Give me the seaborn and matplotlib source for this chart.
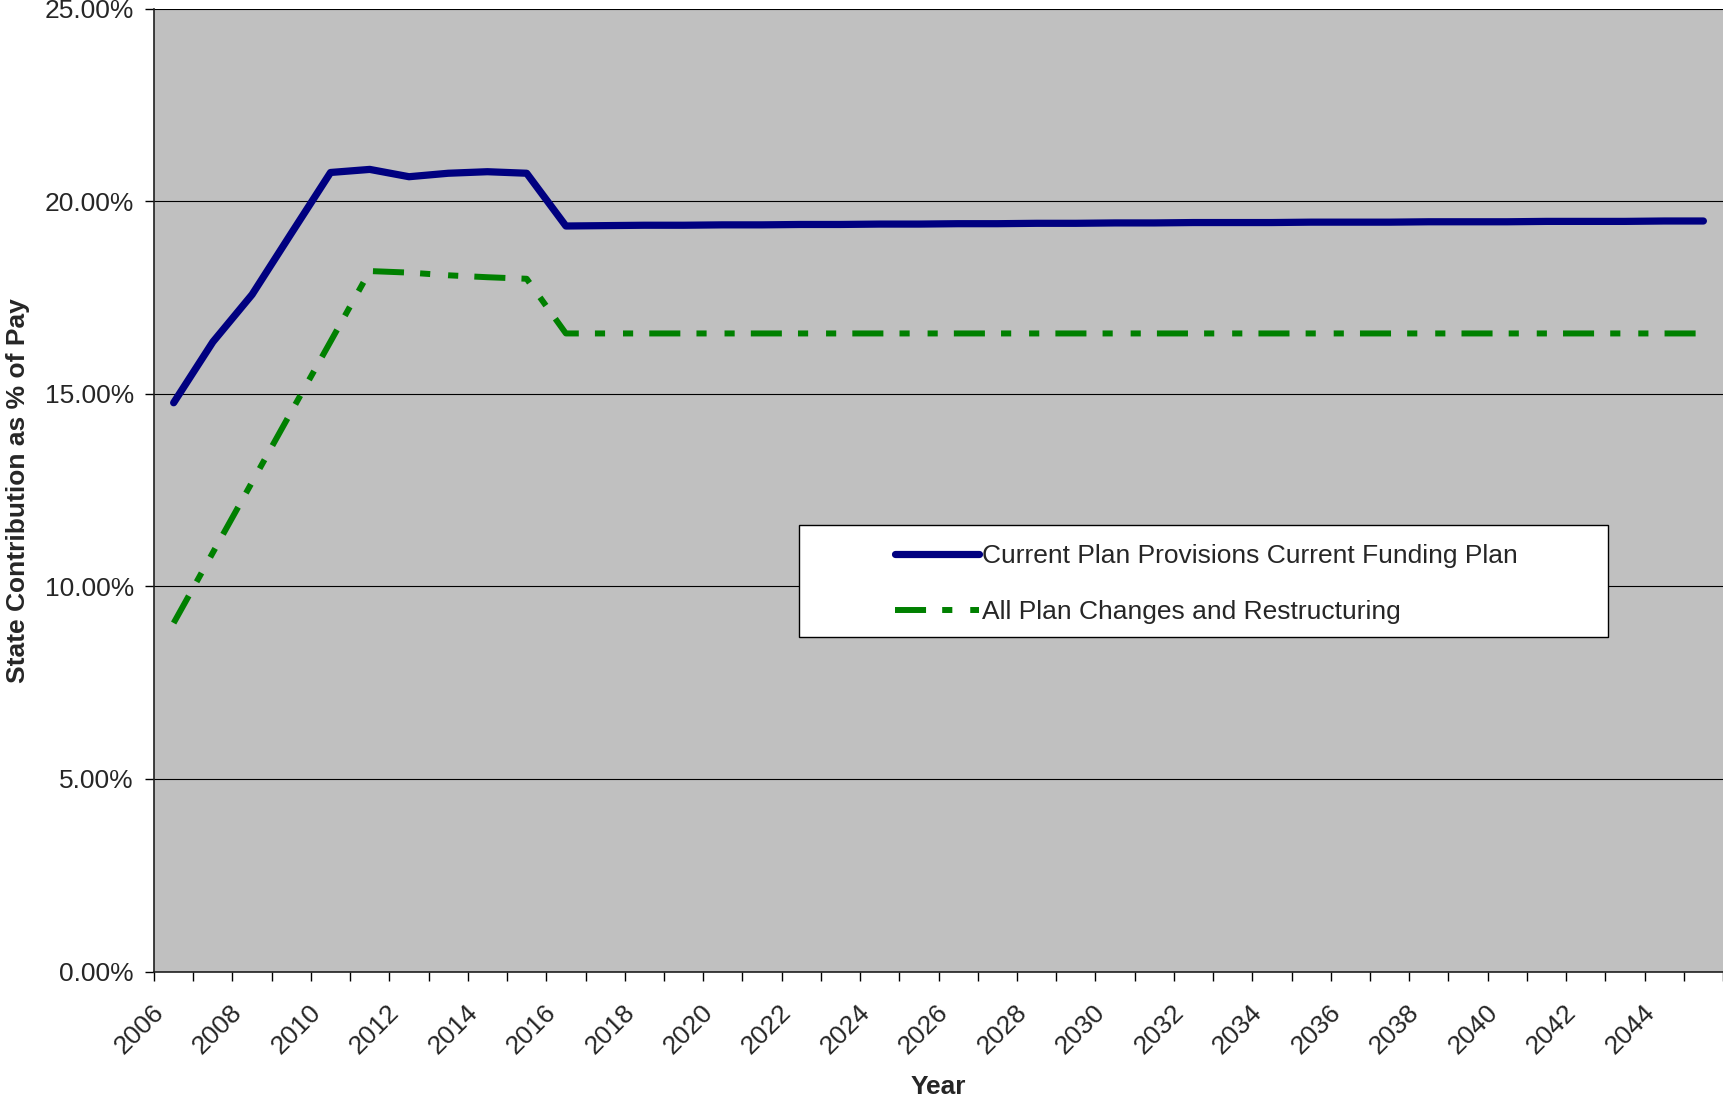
import matplotlib
matplotlib.use("Agg")
import matplotlib.pyplot as plt
import matplotlib.ticker as mticker
import matplotlib.transforms as mtransforms
from matplotlib.patches import Rectangle
import numpy as np
import pandas as pd
import seaborn as sns

# ---- data -------------------------------------------------------------
years = list(range(2006, 2046))

current_plan = [
    14.77, 16.35, 17.58, 19.17, 20.75, 20.83, 20.64, 20.73, 20.77, 20.73,
    19.36, 19.37, 19.38, 19.38, 19.39, 19.39, 19.40, 19.40, 19.41, 19.41,
    19.42, 19.42, 19.43, 19.43, 19.44, 19.44, 19.45, 19.45, 19.45, 19.46,
    19.46, 19.46, 19.47, 19.47, 19.47, 19.48, 19.48, 19.48, 19.49, 19.49,
]

plan_changes = [
    9.05, 10.88, 12.71, 14.54, 16.36, 18.19, 18.15, 18.08, 18.03, 17.99,
    16.57, 16.57, 16.57, 16.57, 16.57, 16.57, 16.57, 16.57, 16.57, 16.57,
    16.57, 16.57, 16.57, 16.57, 16.57, 16.57, 16.57, 16.57, 16.57, 16.57,
    16.57, 16.57, 16.57, 16.57, 16.57, 16.57, 16.57, 16.57, 16.57, 16.57,
]

series_names = [
    "Current Plan Provisions Current Funding Plan",
    "All Plan Changes and Restructuring",
]
y_ticks = [0, 5, 10, 15, 20, 25]
x_label_years = list(range(2006, 2045, 2))

df = pd.DataFrame({"Year": years,
                   series_names[0]: current_plan,
                   series_names[1]: plan_changes})

# ---- style ------------------------------------------------------------
sns.set_style("white")
plt.rcParams["font.family"] = ["Liberation Sans", "DejaVu Sans"]
FS = 19

fig = plt.figure(figsize=(17.23, 11.03), dpi=100)
ax = fig.add_axes([0.0894, 0.1192, 0.9106, 0.8728])
ax.set_facecolor("#C0C0C0")

# gridlines first so the series sit on top
ax.set_axisbelow(True)
ax.yaxis.grid(True, color="black", linewidth=0.8)
ax.xaxis.grid(False)

sns.lineplot(data=df, x="Year", y=series_names[0], ax=ax,
             color="#000080", linewidth=5.2, label=series_names[0],
             solid_capstyle="round", solid_joinstyle="round")
sns.lineplot(data=df, x="Year", y=series_names[1], ax=ax,
             color="#008000", linewidth=4.3, label=series_names[1],
             dash_capstyle="butt")
ax.lines[-1].set_dashes([5.2, 2.7, 1.7, 3.0, 1.7, 2.7])

# ---- axes -------------------------------------------------------------
ax.set_xlim(2005.5, 2045.5)
ax.set_ylim(0, 25)

ax.set_yticks(y_ticks)
ax.yaxis.set_major_formatter(mticker.FuncFormatter(lambda v, p: f"{v:.2f}%"))
ax.tick_params(axis="y", which="major", direction="out", length=6.5,
               width=1, color="black", pad=8, labelsize=FS, left=True)

# year labels centred on each category, tick marks on category boundaries
ax.set_xticks(x_label_years)
ax.set_xticklabels([str(y) for y in x_label_years], rotation=45,
                   ha="right", rotation_mode="anchor")
ax.set_xticks(np.arange(2005.5, 2046.0, 1.0), minor=True)
ax.tick_params(axis="x", which="major", length=0, pad=16, labelsize=FS)
ax.tick_params(axis="x", which="minor", direction="out", length=6.5,
               width=1, color="black", bottom=True)
shift = mtransforms.ScaledTranslation(-0.22, -0.06, fig.dpi_scale_trans)
for lbl in ax.get_xticklabels():
    lbl.set_transform(lbl.get_transform() + shift)

for side in ("top", "right"):
    ax.spines[side].set_visible(False)
for side in ("left", "bottom"):
    ax.spines[side].set_color("#202020")
    ax.spines[side].set_linewidth(1.2)

ax.set_xlabel("Year", fontsize=FS, fontweight="bold")
ax.xaxis.set_label_coords(0.5, -0.107)
ax.xaxis.label.set_va("top")
ax.set_ylabel("State Contribution as % of Pay", fontsize=FS,
              fontweight="bold")
ax.yaxis.set_label_coords(-0.079, 0.5)

# ---- legend -----------------------------------------------------------
ax.add_patch(Rectangle((0.411, 0.3475), 0.516, 0.1163,
                       transform=ax.transAxes, facecolor="white",
                       edgecolor="black", linewidth=1.0, zorder=4))
handles, labels = ax.get_legend_handles_labels()
leg = ax.legend(handles, labels, loc="center left",
                bbox_to_anchor=(0.4722, 0.4023), frameon=False,
                fontsize=FS, handlelength=3.2, handletextpad=0.1,
                labelspacing=1.2, borderpad=0.0, borderaxespad=0.0)
leg.set_zorder(5)

fig.savefig("out.png", dpi=100)
